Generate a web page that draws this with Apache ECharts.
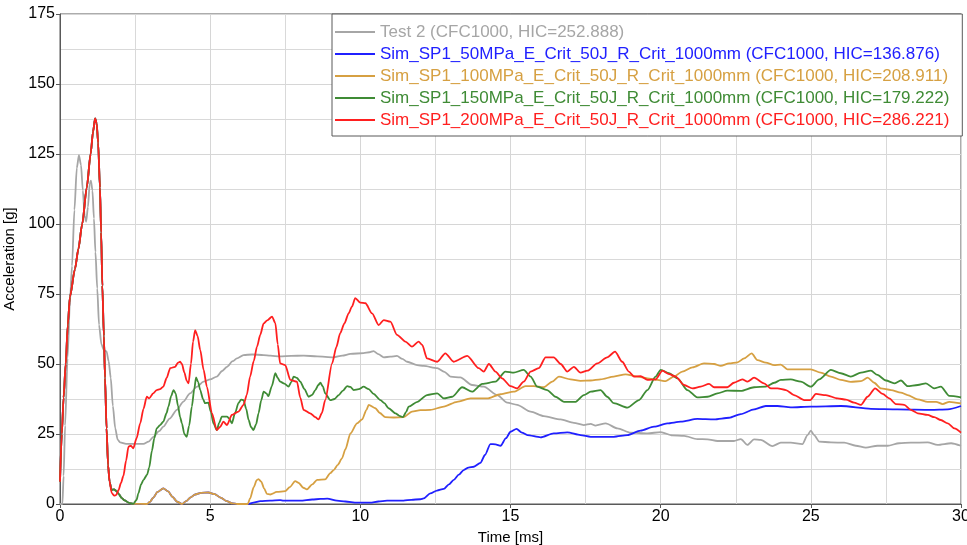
<!DOCTYPE html>
<html><head><meta charset="utf-8">
<script src="https://cdn.jsdelivr.net/npm/echarts@6/dist/echarts.min.js"></script>
<style>html,body{margin:0;padding:0;background:#fff}#c{width:967px;height:545px}</style>
</head><body><div id="c"></div>
<script>
const seriesNames = ['Test 2 (CFC1000, HIC=252.888)','Sim_SP1_50MPa_E_Crit_50J_R_Crit_1000mm (CFC1000, HIC=136.876)','Sim_SP1_100MPa_E_Crit_50J_R_Crit_1000mm (CFC1000, HIC=208.911)','Sim_SP1_150MPa_E_Crit_50J_R_Crit_1000mm (CFC1000, HIC=179.222)','Sim_SP1_200MPa_E_Crit_50J_R_Crit_1000mm (CFC1000, HIC=286.221)'];
const seriesColors = ['#a6a6a6','#2020ff','#d6a042','#3f8b35','#ff1f1f'];
const xTicks = [0,5,10,15,20,25,30];
const yTicks = [0,25,50,75,100,125,150,175];

const test2 = [[0,0],[0.08,0],[0.12,10],[0.17,28],[0.25,52],[0.33,72],[0.4,85],[0.48,105],[0.56,120],[0.63,124.6],[0.7,121],[0.76,112],[0.82,103],[0.87,100.8],[0.93,106],[0.99,114.5],[1.03,115.5],[1.08,112],[1.13,102],[1.18,90],[1.24,77],[1.3,64],[1.38,57],[1.46,55],[1.55,54.5],[1.62,51],[1.69,45],[1.76,35],[1.84,27],[1.92,23],[2.0,22],[2.2,21.5],[2.5,21.5],[2.78,21.5],[2.95,22.3],[3.11,24],[3.3,26],[3.44,27.6],[3.65,30.5],[3.89,33.6],[4.1,36.5],[4.33,39.5],[4.55,41.8],[4.78,43.7],[5.0,44.5],[5.22,45.5],[5.4,47.5],[5.56,49],[5.75,51],[5.89,52],[6.11,53.2],[6.4,53.4],[6.78,53.2],[7.0,53],[7.33,52.7],[7.7,52.9],[8.11,53],[8.56,52.7],[9.11,52.4],[9.4,53],[9.67,53.6],[10.11,53.9],[10.3,54.2],[10.44,54.6],[10.6,53.5],[10.78,52.4],[11.0,52.6],[11.22,52.9],[11.4,51.8],[11.56,50.8],[11.89,49.6],[12.11,49.3],[12.56,48.5],[12.8,47.2],[13.0,45.5],[13.33,45.2],[13.72,42.5],[14.11,41.9],[14.56,38.9],[14.89,36.2],[15.22,35.4],[15.67,33],[16.11,31.4],[16.67,30.2],[17.11,29],[17.44,28.2],[17.67,28.6],[17.83,28],[18.17,28.8],[18.56,27],[19.0,25.5],[19.56,25.2],[20.0,25.7],[20.39,24.5],[20.78,24.3],[21.22,23.2],[21.56,23.1],[21.89,22.5],[22.44,22.5],[22.67,23.2],[22.89,21.1],[23.11,23.1],[23.33,22.9],[23.72,20.7],[24.0,21.9],[24.33,21.9],[24.72,21.4],[24.89,24.6],[25.0,26.2],[25.11,24.6],[25.28,22.3],[25.67,22],[26.11,21.9],[26.5,20.8],[26.83,20.1],[27.22,20.8],[27.56,20.8],[27.94,21.7],[28.33,21.9],[28.89,22],[29.22,21.1],[29.67,21.7],[30,20.8]];

// shared start of all simulations
const simCommon = [[0,8],[0.06,25],[0.12,38],[0.19,50],[0.26,64],[0.33,74],[0.5,84],[0.61,91],[0.74,100],[0.89,113],[1.02,125],[1.1,133],[1.17,137.7],[1.22,136],[1.27,129],[1.33,113],[1.37,97],[1.41,78],[1.46,60],[1.5,45],[1.55,27],[1.6,14],[1.65,8]];
// shared by 50/100/150 MPa after the first pulse
const simLow = [[1.72,5],[1.8,5.2],[1.88,4.6],[1.96,3.5],[2.05,2.2],[2.15,1.3],[2.3,0.4],[2.44,0.05]];
// shared by 50/100 MPa
const simBumps = [[2.9,0],[3.0,0.8],[3.1,2.2],[3.25,4.3],[3.44,5.6],[3.6,4.5],[3.75,2.5],[3.9,0.8],[4.06,0],[4.2,1],[4.35,2.4],[4.5,3.4],[4.7,4],[4.94,4.1],[5.15,3.5],[5.35,2.3],[5.55,1],[5.75,0.2],[5.9,0],[6.25,0]];

const sim50Tail = [[6.44,0.5],[6.67,1],[7.0,1.2],[7.33,1.4],[7.44,1.2],[8.0,1.2],[8.4,1.6],[8.67,1.8],[8.9,1.9],[9.22,1.2],[9.5,0.9],[9.89,0.5],[10.33,0.5],[10.6,0.9],[10.89,1.2],[11.44,1.2],[11.7,1.5],[12.0,1.7],[12.11,2],[12.33,3.8],[12.55,4.8],[12.78,5.4],[12.95,7],[13.11,8.6],[13.28,10.5],[13.44,12.1],[13.6,13],[13.78,13.3],[14.0,14.7],[14.15,17.5],[14.33,21.4],[14.5,21.3],[14.67,20.8],[14.85,23.5],[15.0,25.8],[15.2,26.8],[15.38,25.5],[15.56,24.6],[16.0,23.8],[16.44,25.2],[16.89,25.6],[17.33,24.6],[17.67,24],[17.89,24],[18.44,24],[18.89,24.6],[19.33,26.2],[19.78,27.6],[20.22,28.8],[20.67,29.4],[21.22,30.4],[21.78,30.2],[22.28,30.8],[22.67,32.1],[23.11,33.8],[23.5,35],[23.89,35],[24.33,34.5],[25.0,34.8],[26.0,35],[27.0,34],[27.89,33.8],[29.0,33.6],[29.56,33.8],[30,35]];

const sim100Tail = [[6.33,2],[6.45,6],[6.55,8.5],[6.61,8.9],[6.7,8],[6.8,5.5],[6.89,3.6],[7.0,3.4],[7.22,4.3],[7.5,4.6],[7.65,6],[7.83,8.2],[7.95,7.5],[8.1,5.8],[8.22,5.2],[8.4,7],[8.56,8.6],[8.83,8.8],[9.0,11],[9.11,12.1],[9.25,14],[9.39,16.3],[9.5,19.5],[9.67,25.2],[9.89,28.8],[10.06,30.2],[10.2,33.5],[10.28,35.4],[10.5,34.2],[10.65,32.5],[10.83,31],[11.11,30.9],[11.44,31],[11.72,33],[12.0,33.5],[12.33,33.6],[12.78,34.8],[13.22,36.5],[13.67,37.7],[14.22,37.7],[14.67,39.2],[15.11,40.1],[15.5,42.1],[15.78,42.1],[16.11,41.7],[16.39,43.7],[16.61,45.5],[17.0,44.5],[17.33,44],[17.67,44.1],[18.0,44.5],[18.44,45.5],[18.83,46.3],[19.22,45.5],[19.56,44.9],[19.89,44.3],[20.17,43.9],[20.44,45.5],[20.72,47.3],[21.06,48.8],[21.44,50.2],[21.78,50],[22.0,49.3],[22.28,50.2],[22.56,50.6],[22.78,52],[23.03,53.8],[23.22,51.4],[23.5,50.5],[23.78,49.6],[24.0,49.8],[24.22,48.1],[24.56,48.1],[25.0,48.1],[25.33,46.9],[25.67,45.5],[26.0,44.3],[26.33,43.6],[26.67,43.9],[26.89,45.1],[27.11,43.3],[27.33,41.3],[27.67,40.7],[28.0,39.8],[28.22,38.9],[28.56,37.4],[28.89,36.5],[29.17,36.5],[29.39,35.7],[29.61,36.5],[30,35.9]];

const sim150Tail = [[2.55,1.5],[2.61,3.8],[2.7,7],[2.78,8.6],[2.9,10.5],[2.97,13],[3.06,19],[3.14,23.5],[3.22,27],[3.33,28.2],[3.44,29.4],[3.55,32.5],[3.61,34.8],[3.7,38.5],[3.78,40.7],[3.85,39.5],[3.93,35],[4.0,31],[4.06,28.8],[4.14,25],[4.22,24],[4.3,28],[4.39,34.8],[4.47,41],[4.53,45.2],[4.6,43.5],[4.67,40.7],[4.76,37.5],[4.83,36],[4.94,36.2],[5.02,33],[5.11,28.8],[5.22,26.4],[5.3,29],[5.39,31.2],[5.56,31.2],[5.64,30.5],[5.72,28.8],[5.83,32.5],[5.94,36],[6.03,37.3],[6.11,37.1],[6.2,34],[6.28,30],[6.36,27.5],[6.44,26.4],[6.53,28.5],[6.61,32.4],[6.7,37],[6.78,40.1],[6.87,39.5],[6.94,38.5],[7.05,42],[7.17,46.7],[7.25,45],[7.33,43.7],[7.47,43],[7.61,41.9],[7.7,43.5],[7.78,45.5],[7.89,45],[8.0,43.7],[8.14,41],[8.28,38.3],[8.4,39],[8.5,40.7],[8.6,42.5],[8.67,43.3],[8.75,42],[8.83,39.5],[9.0,37.1],[9.14,37.5],[9.28,38.9],[9.42,40.5],[9.56,42.1],[9.67,41.8],[9.78,40.7],[9.95,41],[10.11,41.9],[10.28,41],[10.44,39.3],[10.67,37.1],[10.8,36],[10.94,34.2],[11.17,32.4],[11.3,31.5],[11.42,31],[11.52,32.8],[11.61,34.8],[11.9,36.5],[12.22,38.9],[12.56,39.5],[12.78,37.7],[13.06,38.3],[13.39,41.7],[13.72,40.1],[14.06,42.9],[14.5,43.7],[14.83,47.3],[15.11,46.9],[15.44,47.9],[15.67,45.5],[15.89,41.9],[16.22,40.7],[16.5,38.3],[16.78,36.5],[17.17,36.5],[17.44,38.9],[17.67,40.1],[18.0,40.7],[18.22,38.3],[18.44,36],[18.89,34.4],[19.28,37.1],[19.56,40.7],[19.83,45.5],[20.0,47.9],[20.28,46.7],[20.56,44.9],[20.89,40.7],[21.22,38.1],[21.56,38.3],[21.89,39.5],[22.22,40.5],[22.67,40.4],[23.11,41.7],[23.5,41.9],[23.78,43.3],[24.0,44.3],[24.33,44.5],[24.67,43.7],[25.0,41.9],[25.28,44.5],[25.67,47.9],[26.0,46.7],[26.33,45.5],[26.67,46.9],[27.0,47.6],[27.22,46.1],[27.5,44.1],[27.78,43.1],[28.0,44.1],[28.22,42.1],[28.56,42.5],[28.83,43.1],[29.11,41.3],[29.33,41.9],[29.61,38.6],[30,38.1]];

const sim200Tail = [[1.72,4],[1.8,3],[1.87,3.2],[1.95,5],[2.03,7.5],[2.11,10],[2.2,15.5],[2.28,20.5],[2.36,20.8],[2.44,19.9],[2.55,23.5],[2.67,28.8],[2.78,34],[2.89,38.3],[2.97,37.7],[3.1,39.5],[3.22,40.7],[3.33,41],[3.44,41.9],[3.55,45],[3.67,48.5],[3.83,49],[3.93,50.5],[4.0,50.8],[4.06,50],[4.14,47],[4.22,44],[4.28,43.1],[4.36,50],[4.43,58],[4.5,62.1],[4.58,60],[4.67,55],[4.78,48],[4.89,41.9],[5.06,32.4],[5.22,26.4],[5.33,27.5],[5.44,29.4],[5.56,28.2],[5.72,31.8],[5.94,33],[6.11,35.4],[6.22,39],[6.33,45.5],[6.45,51],[6.56,56.2],[6.67,60.5],[6.78,64.5],[6.9,65.6],[7.06,66.9],[7.17,64.6],[7.25,57],[7.33,50.2],[7.5,49.6],[7.67,44.3],[7.89,43.7],[8.0,38],[8.11,33.6],[8.33,32.4],[8.5,31],[8.61,30.2],[8.72,32.5],[8.83,37.1],[9.06,50.2],[9.2,56],[9.33,61],[9.47,64.5],[9.61,68.1],[9.72,70.5],[9.83,73.5],[10.0,71.9],[10.17,71.7],[10.39,68.1],[10.61,63.9],[10.78,65.7],[11.0,65.1],[11.22,60.4],[11.5,58],[11.72,56.2],[11.94,58],[12.06,56.8],[12.22,52],[12.56,50.8],[12.83,53.8],[13.11,50.8],[13.56,52.9],[13.94,48.5],[14.11,47.3],[14.28,50],[14.5,47.3],[14.72,44.9],[15.0,42.1],[15.22,41.3],[15.44,43.7],[15.67,47.3],[15.94,48.5],[16.17,52.4],[16.44,52.4],[16.67,50],[16.89,47.3],[17.11,49],[17.33,46.9],[17.56,47.6],[17.89,50.2],[18.22,52.4],[18.48,54.4],[18.72,50.8],[18.94,47.3],[19.11,45.5],[19.33,45.7],[19.56,44.3],[19.83,44.5],[20.06,47.6],[20.28,46.4],[20.5,45.5],[20.78,42.5],[21.06,41.3],[21.33,41.9],[21.61,42.9],[21.78,41.7],[22.22,41.7],[22.44,43.3],[22.72,44.5],[22.89,43.7],[23.11,45.1],[23.44,43.1],[23.67,41.3],[23.89,41.3],[24.17,40.7],[24.44,38.9],[24.78,37.1],[24.98,37.1],[25.17,39.3],[25.5,38.9],[25.89,37.7],[26.17,37.3],[26.44,36.2],[26.67,35.4],[26.89,38.3],[27.14,41.3],[27.39,39.3],[27.61,37.7],[27.83,35.7],[28.11,35.4],[28.33,33.6],[28.56,32.4],[28.89,31.8],[29.11,31],[29.33,30],[29.56,28.8],[29.78,27],[30,25.5]];

const sim50 = simCommon.concat(simLow, simBumps, sim50Tail);
const sim100 = simCommon.concat(simLow, simBumps, sim100Tail);
const sim150 = simCommon.concat(simLow, sim150Tail);
const sim200 = simCommon.concat(sim200Tail);
const allData = [test2, sim50, sim100, sim150, sim200];

const FONT = "'Liberation Sans', Arial, sans-serif";
const chart = echarts.init(document.getElementById('c'), null, {renderer:'canvas'});
const axisCol = '#595959';
chart.setOption({
  animation:false,
  backgroundColor:'#fff',
  textStyle:{fontFamily:FONT},
  grid:{left:60,right:6,top:14,bottom:41,containLabel:false,outerBoundsMode:'none',show:true,borderColor:axisCol,borderWidth:1,backgroundColor:'transparent'},
  xAxis:{type:'value',min:xTicks[0],max:xTicks[xTicks.length-1],interval:5,
    name:'Time [ms]',nameLocation:'middle',nameGap:24,nameTextStyle:{fontSize:15,color:'#000',fontFamily:FONT},
    axisLine:{lineStyle:{color:axisCol,width:1}},
    axisTick:{show:true,length:4,lineStyle:{color:axisCol}},
    axisLabel:{fontSize:16,color:'#000',margin:5,fontFamily:FONT,hideOverlap:false},
    splitLine:{show:true,lineStyle:{color:'#d6d6d6',width:1}},
    minorTick:{show:false,splitNumber:2},
    minorSplitLine:{show:true,lineStyle:{color:'#d9d9d9',width:1}}},
  yAxis:{type:'value',min:yTicks[0],max:yTicks[yTicks.length-1],interval:25,
    name:'Acceleration [g]',nameLocation:'middle',nameGap:37,nameRotate:90,nameTextStyle:{fontSize:15,color:'#000',fontFamily:FONT},
    axisLine:{show:true,lineStyle:{color:axisCol,width:1}},
    axisTick:{show:true,length:4,lineStyle:{color:axisCol}},
    axisLabel:{fontSize:16,color:'#000',margin:5,fontFamily:FONT},
    splitLine:{show:true,lineStyle:{color:'#d6d6d6',width:1}},
    minorTick:{show:false,splitNumber:2},
    minorSplitLine:{show:true,lineStyle:{color:'#d9d9d9',width:1}}},
  legend:{orient:'vertical',left:332,top:14,backgroundColor:'#fff',borderColor:axisCol,borderWidth:1,
    padding:[8,13,6,3],itemGap:2,itemWidth:40,itemHeight:2,icon:'rect',
    textStyle:{fontSize:17,fontFamily:FONT,lineHeight:20},
    data:seriesNames.map((n,i)=>({name:n,textStyle:{color:seriesColors[i]}}))},
  series:seriesNames.map((n,i)=>({
    name:n,type:'line',data:allData[i],symbol:'none',smooth:0.25,smoothMonotone:'x',
    lineStyle:{color:seriesColors[i],width:1.8},itemStyle:{color:seriesColors[i]},z:2+i
  }))
});
</script></body></html>
